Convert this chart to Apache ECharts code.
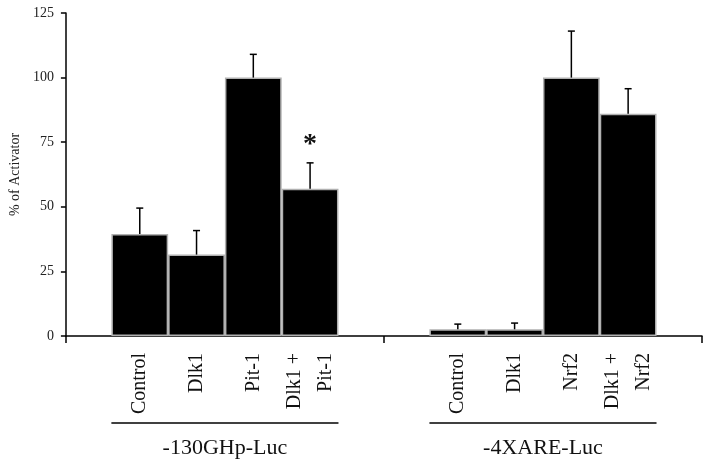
<!DOCTYPE html>
<html>
<head>
    <meta charset="utf-8">
    <title>% of Activator</title>
    <script src="https://cdn.jsdelivr.net/npm/echarts@6/dist/echarts.min.js"></script>
</head>
<body style="margin:0">
    <div id="main" style="width: 710px;height:466px;"></div>
    <script type="text/javascript">
        // 数据
        var groups = ['-130GHp-Luc', '-4XARE-Luc'];
        var barNames = [
            ['Control', 'Dlk1', 'Pit-1', 'Dlk1 +\nPit-1'],
            ['Control', 'Dlk1', 'Nrf2', 'Dlk1 +\nNrf2']
        ];
        var controlVals = [39.5, 2.6];
        var dlk1Vals = [31.5, 2.6];
        var activatorVals = [100, 100];
        var comboVals = [57, 86];
        var controlErr = [10, 2];
        var dlk1Err = [9.3, 2.4];
        var activatorErr = [9, 18];
        var comboErr = [10, 9.7];
        var starFlags = [[0, 0, 0, 1], [0, 0, 0, 0]];

        var seriesVals = [controlVals, dlk1Vals, activatorVals, comboVals];
        var seriesErr = [controlErr, dlk1Err, activatorErr, comboErr];
        var catGap = 0.286;
        var serif = 'Liberation Serif';

        var myChart = echarts.init(document.getElementById('main'));

        // 误差线数据 [组, 柱序号, 值, 误差, 星号]
        var errData = [];
        for (var g = 0; g < groups.length; g++) {
            for (var s = 0; s < seriesVals.length; s++) {
                errData.push([g, s, seriesVals[s][g], seriesErr[s][g], starFlags[g][s]]);
            }
        }

        var barSeries = seriesVals.map(function (vals, s) {
            return {
                type: 'bar',
                data: vals,
                barGap: '0%',
                barCategoryGap: (catGap * 100) + '%',
                itemStyle: { color: '#000', borderColor: '#b0b0b0', borderWidth: 1.5 },
                label: {
                    show: true,
                    position: ['50%', '100%'],
                    offset: [-17, 0],   // 旋转后坐标系：向下 17px
                    rotate: 90,
                    align: 'right',
                    verticalAlign: 'middle',
                    fontFamily: serif,
                    fontSize: 20,
                    lineHeight: 31,
                    color: '#111',
                    formatter: function (p) { return barNames[p.dataIndex][s]; }
                },
                z: 2
            };
        });

        var option = {
            animation: false,
            grid: { left: 62, right: 8, top: 13, bottom: 130 },
            xAxis: {
                type: 'category',
                data: groups,
                axisLine: { lineStyle: { color: '#000', width: 1.5 } },
                axisTick: { show: true, length: 7, lineStyle: { color: '#000', width: 1.5 } },
                axisLabel: { margin: 101, fontFamily: serif, fontSize: 22, color: '#111' }
            },
            yAxis: {
                type: 'value',
                min: 0, max: 125, interval: 25,
                name: '% of Activator',
                nameLocation: 'middle',
                nameGap: 43,
                nameTextStyle: { fontFamily: serif, fontSize: 14, color: '#222' },
                axisLine: { show: true, lineStyle: { color: '#000', width: 1.5 } },
                axisTick: { show: true, length: 5, lineStyle: { color: '#000', width: 1.5 } },
                splitLine: { show: false },
                axisLabel: { margin: 12, fontFamily: serif, fontSize: 14, color: '#222' }
            },
            series: barSeries.concat([{
                type: 'custom',
                data: errData,
                z: 3,
                renderItem: function (params, api) {
                    var band = api.size([1, 0])[0];
                    var bw = band * (1 - catGap) / 4;
                    var center = api.coord([api.value(0), 0])[0];
                    var x = center + (api.value(1) - 1.5) * bw;
                    var yTop = api.coord([0, api.value(2)])[1];
                    var yErr = api.coord([0, api.value(2) + api.value(3)])[1];
                    var st = { stroke: '#000', lineWidth: 1.5 };
                    var children = [
                        { type: 'line', shape: { x1: x, y1: yTop, x2: x, y2: yErr }, style: st },
                        { type: 'line', shape: { x1: x - 3.5, y1: yErr, x2: x + 3.5, y2: yErr }, style: st }
                    ];
                    if (api.value(4)) {
                        children.push({
                            type: 'text',
                            style: {
                                text: '*', x: x, y: yErr - 4,
                                align: 'center', verticalAlign: 'bottom',
                                font: 'bold 28px ' + serif, fill: '#111'
                            }
                        });
                    }
                    return { type: 'group', children: children };
                }
            }])
        };

        myChart.setOption(option);

        // 分组下方横线
        var lines = groups.map(function (g, i) {
            var c = myChart.convertToPixel({ xAxisIndex: 0 }, i);
            var band = myChart.convertToPixel({ xAxisIndex: 0 }, 1) - myChart.convertToPixel({ xAxisIndex: 0 }, 0);
            var half = band * (1 - catGap) / 2;
            return {
                type: 'line',
                shape: { x1: c - half, y1: 423, x2: c + half, y2: 423 },
                style: { stroke: '#000', lineWidth: 1.5 }
            };
        });
        myChart.setOption({ graphic: lines });
    </script>
</body>
</html>
